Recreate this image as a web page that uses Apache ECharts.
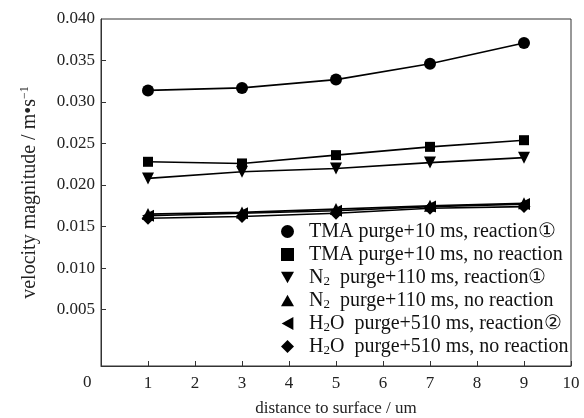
<!DOCTYPE html>
<html><head><meta charset="utf-8">
<script src="https://cdn.jsdelivr.net/npm/echarts@6/dist/echarts.min.js"></script>
<style>html,body{margin:0;padding:0;background:#fff}#c{width:584px;height:418px}</style>
</head><body><div id="c"></div>
<script>
const distances = [1, 3, 5, 7, 9];
const tmaReaction = [0.0314, 0.0317, 0.0327, 0.0346, 0.0371];
const tmaNoReaction = [0.0228, 0.0226, 0.0236, 0.0246, 0.0254];
const n2Reaction = [0.0208, 0.0216, 0.0220, 0.0227, 0.0233];
const n2NoReaction = [0.0165, 0.0167, 0.0171, 0.0175, 0.0178];
const h2oReaction = [0.0163, 0.0166, 0.0169, 0.0174, 0.0177];
const h2oNoReaction = [0.0160, 0.0162, 0.0166, 0.0172, 0.0174];
const yTickValues = [0.005, 0.010, 0.015, 0.020, 0.025, 0.030, 0.035];
const yLabelValues = [0.005, 0.010, 0.015, 0.020, 0.025, 0.030, 0.035, 0.040];
const xTickLabels = ['', '1', '2', '3', '4', '5', '6', '7', '8', '9', '10'];

const names = [
  'TMA purge+10 ms, reaction①',
  'TMA purge+10 ms, no reaction',
  'N2 purge+110 ms, reaction①',
  'N2 purge+110 ms, no reaction',
  'H2O purge+510 ms, reaction②',
  'H2O purge+510 ms, no reaction'
];
function legendFmt(n) {
  if (n.startsWith('N2')) return '{p| }{a|N}{sub|2}{a|  ' + n.slice(3) + '}';
  if (n.startsWith('H2O')) return '{p| }{a|H}{sub|2}{a|O  ' + n.slice(4) + '}';
  return '{p| }{a|' + n + '}';
}
const serif = '"Liberation Serif","DejaVu Serif",serif';
const data = [tmaReaction, tmaNoReaction, n2Reaction, n2NoReaction, h2oReaction, h2oNoReaction];
const symbols = [
  {symbol: 'circle', size: 12, rot: 0, icon: 'circle'},
  {symbol: 'rect', size: 10, rot: 0, icon: 'rect'},
  {symbol: 'triangle', size: 12, rot: 180, icon: 'path://M0,0 L10,0 L5,9 Z'},
  {symbol: 'triangle', size: 12, rot: 0, icon: 'path://M5,0 L10,9 L0,9 Z'},
  {symbol: 'triangle', size: 12, rot: 90, icon: 'path://M0,5 L9,0 L9,10 Z'},
  {symbol: 'diamond', size: 13, rot: 0, icon: 'diamond'}
];
const chart = echarts.init(document.getElementById('c'), null, {renderer: 'canvas'});
chart.setOption({
  animation: false,
  backgroundColor: '#fff',
  grid: {left: 101, right: 13, top: 19, bottom: 52, show: true, borderColor: '#333', borderWidth: 1,
    containLabel: false, outerBoundsMode: 'none'},
  xAxis: {
    type: 'value', min: 0, max: 10, interval: 1,
    axisLine: {onZero: false, lineStyle: {color: '#333', width: 1}},
    axisTick: {inside: true, length: 5, lineStyle: {color: '#333'}},
    splitLine: {show: false},
    axisLabel: {fontFamily: serif, fontSize: 17, color: '#222', margin: 9,
      formatter: v => xTickLabels[Math.round(v)]},
    name: 'distance to surface / um', nameLocation: 'middle', nameGap: 34,
    nameTextStyle: {fontFamily: serif, fontSize: 17, color: '#222'}
  },
  yAxis: {
    type: 'value', min: -0.0018, max: 0.040,
    axisLine: {onZero: false, lineStyle: {color: '#333', width: 1}},
    axisTick: {inside: true, length: 5, customValues: yTickValues, lineStyle: {color: '#333'}},
    splitLine: {show: false},
    axisLabel: {fontFamily: serif, fontSize: 17, color: '#222', margin: 6, customValues: yLabelValues,
      formatter: v => v.toFixed(3)},
    name: '{a|velocity magnitude / m•s}{sup|−1}', nameLocation: 'middle', nameGap: 60,
    nameTextStyle: {fontFamily: serif, fontSize: 20, color: '#222',
      rich: {a: {fontFamily: serif, fontSize: 20, color: '#222'},
             sup: {fontFamily: serif, fontSize: 12, color: '#222', verticalAlign: 'top', padding: [0, 0, 10, 0]}}}
  },
  legend: {
    orient: 'vertical', left: 276, top: 215, itemGap: 0, itemWidth: 13, itemHeight: 13,
    data: names.map((n, i) => ({name: n, icon: symbols[i].icon})),
    formatter: legendFmt,
    textStyle: {fontFamily: serif, fontSize: 20, color: '#111', lineHeight: 23,
      rich: {p: {width: 10, fontSize: 20, lineHeight: 23},
             a: {fontFamily: serif, fontSize: 20, color: '#111', lineHeight: 23},
             sub: {fontFamily: serif, fontSize: 13, color: '#111', lineHeight: 23, padding: [9, 0, 0, 0]}}}
  },
  graphic: [{type: 'text', left: 83, top: 374, style: {text: '0', font: '17px ' + serif, fill: '#222'}}],
  series: data.map((d, i) => ({
    name: names[i], type: 'line',
    data: distances.map((x, j) => [x, d[j]]),
    symbol: symbols[i].symbol, symbolSize: symbols[i].size, symbolRotate: symbols[i].rot,
    itemStyle: {color: '#000'},
    lineStyle: {color: '#000', width: 1.6},
    z: 10 - i
  }))
});
</script></body></html>
